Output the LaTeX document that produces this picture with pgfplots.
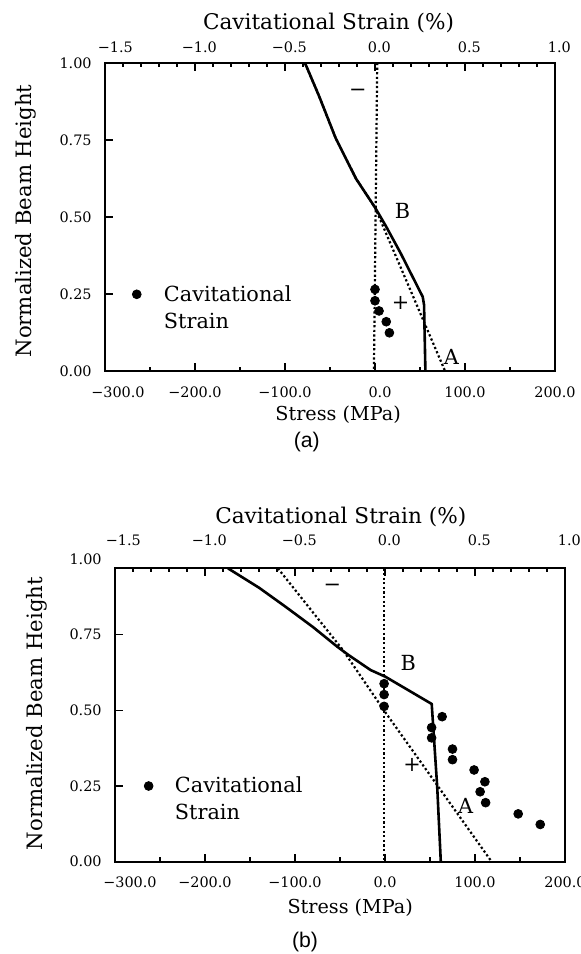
\documentclass[border=0pt]{standalone}
\usepackage{fontspec}
\setmainfont{DejaVu Serif}
\newfontfamily\sansf{Liberation Sans}
\usepackage{pgfplots}
\pgfplotsset{compat=1.18}

\pgfplotsset{
  stressax/.style={
    scale only axis, width=225pt, anchor=south west,
    xmin=-300, xmax=200, ymin=0,
    tick align=inside, clip=false,
    axis line style={line width=0.9pt},
    every tick/.style={black, line width=0.7pt},
    major tick length=4pt, minor tick length=2.2pt,
    xtick={-300,-200,-100,0,100,200},
    minor x tick num=1,
    xtick pos=left, ytick pos=left,
    tick label style={font=\fontsize{7.2}{8}\selectfont},
    label style={font=\fontsize{9.6}{12}\selectfont},
    yticklabel style={anchor=east, inner sep=0pt, xshift=-6.5pt},
    xticklabel style={anchor=center, inner sep=0pt},
  },
  strainax/.style={
    scale only axis, width=225pt, anchor=south west,
    xmin=-1.5, xmax=1.0, ymin=0, ymax=1,
    axis x line*=top, axis y line=none,
    tick align=inside,
    axis line style={line width=0.9pt},
    every tick/.style={black, line width=0.7pt},
    major tick length=4pt, minor tick length=2.2pt,
    xtick={-1.5,-1,-0.5,0,0.5,1},
    minor x tick num=4,
    tick label style={font=\fontsize{7.2}{8}\selectfont},
    xticklabel style={anchor=center, inner sep=0pt, xshift=2.2pt},
    label style={font=\fontsize{10.8}{13}\selectfont},
    xlabel={Cavitational Strain (\%)},
  },
  solidline/.style={black, line width=1.3pt},
  dotline/.style={black, line width=1.1pt, dash pattern=on 1.1pt off 1.2pt},
  dots/.style={only marks, mark=*, mark size=2.2pt, black},
}
\tikzset{txt/.style={font=\fontsize{10.4}{12}\selectfont}}

\begin{document}
\begin{tikzpicture}[x=1pt,y=1pt]
\path[use as bounding box] (0,0) rectangle (290.5,477);

% ---------------- (a) ----------------
\begin{axis}[stressax, at={(52.5pt,291.5pt)}, height=154pt, ymax=1,
    xticklabels={\hspace*{13pt}−300.0,−200.0,−100.0,\hspace*{5pt}0.0,100.0,200.0},
    ytick={0,0.25,0.5,0.75,1}, yticklabels={0.00,0.25,0.50,0.75,1.00},
    xticklabel style={yshift=-10.4pt},
    xlabel={Stress (MPa)},
    xlabel style={at={(axis description cs:0.518,-0.143)}, anchor=center},
    ylabel={Normalized Beam Height},
    ylabel style={at={(axis description cs:-0.1756,0.487)}, anchor=center, font=\fontsize{10.6}{12}\selectfont}]
\addplot[solidline] coordinates {(-77.8,1) (-62.2,0.893) (-43.7,0.756) (-21,0.624) (0,0.531) (12,0.471) (28.4,0.383) (53,0.241) (54.5,0.215) (56,0)};
\addplot[dotline] coordinates {(-77.8,1) (-62.2,0.893) (-43.7,0.756) (-21,0.624) (0,0.531) (77.8,0)};
\addplot[dotline] coordinates {(2.5,1) (-1.2,0)};
\addplot[dots] coordinates {(0,0.265) (0,0.228) (4.5,0.195) (12.5,0.160) (16,0.124)};
\addplot[dots] coordinates {(-264.7,0.249)};
\node[txt] at (axis cs:-19,0.904) {−};
\node[txt] at (axis cs:30.5,0.52) {B};
\node[txt] at (axis cs:28.4,0.22) {+};
\node[txt] at (axis cs:85,0.046) {A};
\node[txt, anchor=west, inner sep=0pt] at (axis cs:-234.9,0.252) {Cavitational};
\node[txt, anchor=west, inner sep=0pt] at (axis cs:-234.9,0.164) {Strain};
\end{axis}
\begin{axis}[strainax, at={(52.5pt,291.5pt)}, height=154pt,
    xticklabels={\hspace*{6pt}−1.5,−1.0,−0.5,0.0,0.5,1.0},
    xticklabel style={yshift=8pt},
    xlabel style={at={(axis description cs:0.4967,1.1299)}, anchor=center}]
\end{axis}
\node[font=\sansf\fontsize{10.6}{12}\selectfont] at (153.4,256) {(a)};

% ---------------- (b) ----------------
\begin{axis}[stressax, at={(57.5pt,46.15pt)}, height=146.85pt, ymax=0.97,
    xticklabels={\hspace*{15pt}−300.0,−200.0,−100.0,0.0,100.0,200.0},
    ytick={0,0.25,0.5,0.75}, yticklabels={0.00,0.25,0.50,0.75},
    xticklabel style={yshift=-10.5pt},
    xlabel={Stress (MPa)},
    xlabel style={at={(axis description cs:0.5227,-0.1566)}, anchor=center},
    ylabel={Normalized Beam Height},
    ylabel style={at={(axis description cs:-0.1731,0.504)}, anchor=center, font=\fontsize{10.6}{12}\selectfont}]
\addplot[solidline] coordinates {(-174.5,0.969) (-140,0.905) (-110.7,0.8425) (-80,0.775) (-53,0.710) (-40.7,0.683) (-16,0.633) (0.4,0.611) (51.9,0.521) (58,0.248) (62,0)};
\addplot[dotline] coordinates {(-119,0.969) (-47,0.70) (0,0.495) (118.5,0)};
\addplot[dotline] coordinates {(-1,0.969) (-1,0)};
\addplot[dots] coordinates {(-1,0.588) (-1,0.552) (-1,0.513) (63.5,0.479) (51.8,0.443) (51.8,0.409) (75,0.372) (75,0.337) (99,0.303) (111,0.264) (105.7,0.231) (111.8,0.195) (148,0.158) (172.5,0.123)};
\addplot[dots] coordinates {(-262.6,0.25)};
\node[txt] at (axis cs:-58.6,0.906) {−};
\node[txt] at (axis cs:25.8,0.655) {B};
\node[txt] at (axis cs:30,0.319) {+};
\node[txt] at (axis cs:89.7,0.184) {A};
\node[txt, anchor=west, inner sep=0pt] at (axis cs:-233.8,0.253) {Cavitational};
\node[txt, anchor=west, inner sep=0pt] at (axis cs:-233.8,0.165) {Strain};
\node[font=\fontsize{7.2}{8}\selectfont, anchor=east, inner sep=0pt, xshift=-6.5pt] at (axis cs:-300,1) {1.00};
\end{axis}
\begin{axis}[strainax, at={(57.5pt,46.15pt)}, height=146.85pt,
    xticklabels={\hspace*{4pt}−1.5,−1.0,−0.5,0.0,0.5,1.0},
    xticklabel style={yshift=14pt},
    xlabel style={at={(axis description cs:0.5017,1.1747)}, anchor=center}]
\end{axis}
\node[font=\sansf\fontsize{10.6}{12}\selectfont] at (152.5,5.8) {(b)};
\end{tikzpicture}
\end{document}
